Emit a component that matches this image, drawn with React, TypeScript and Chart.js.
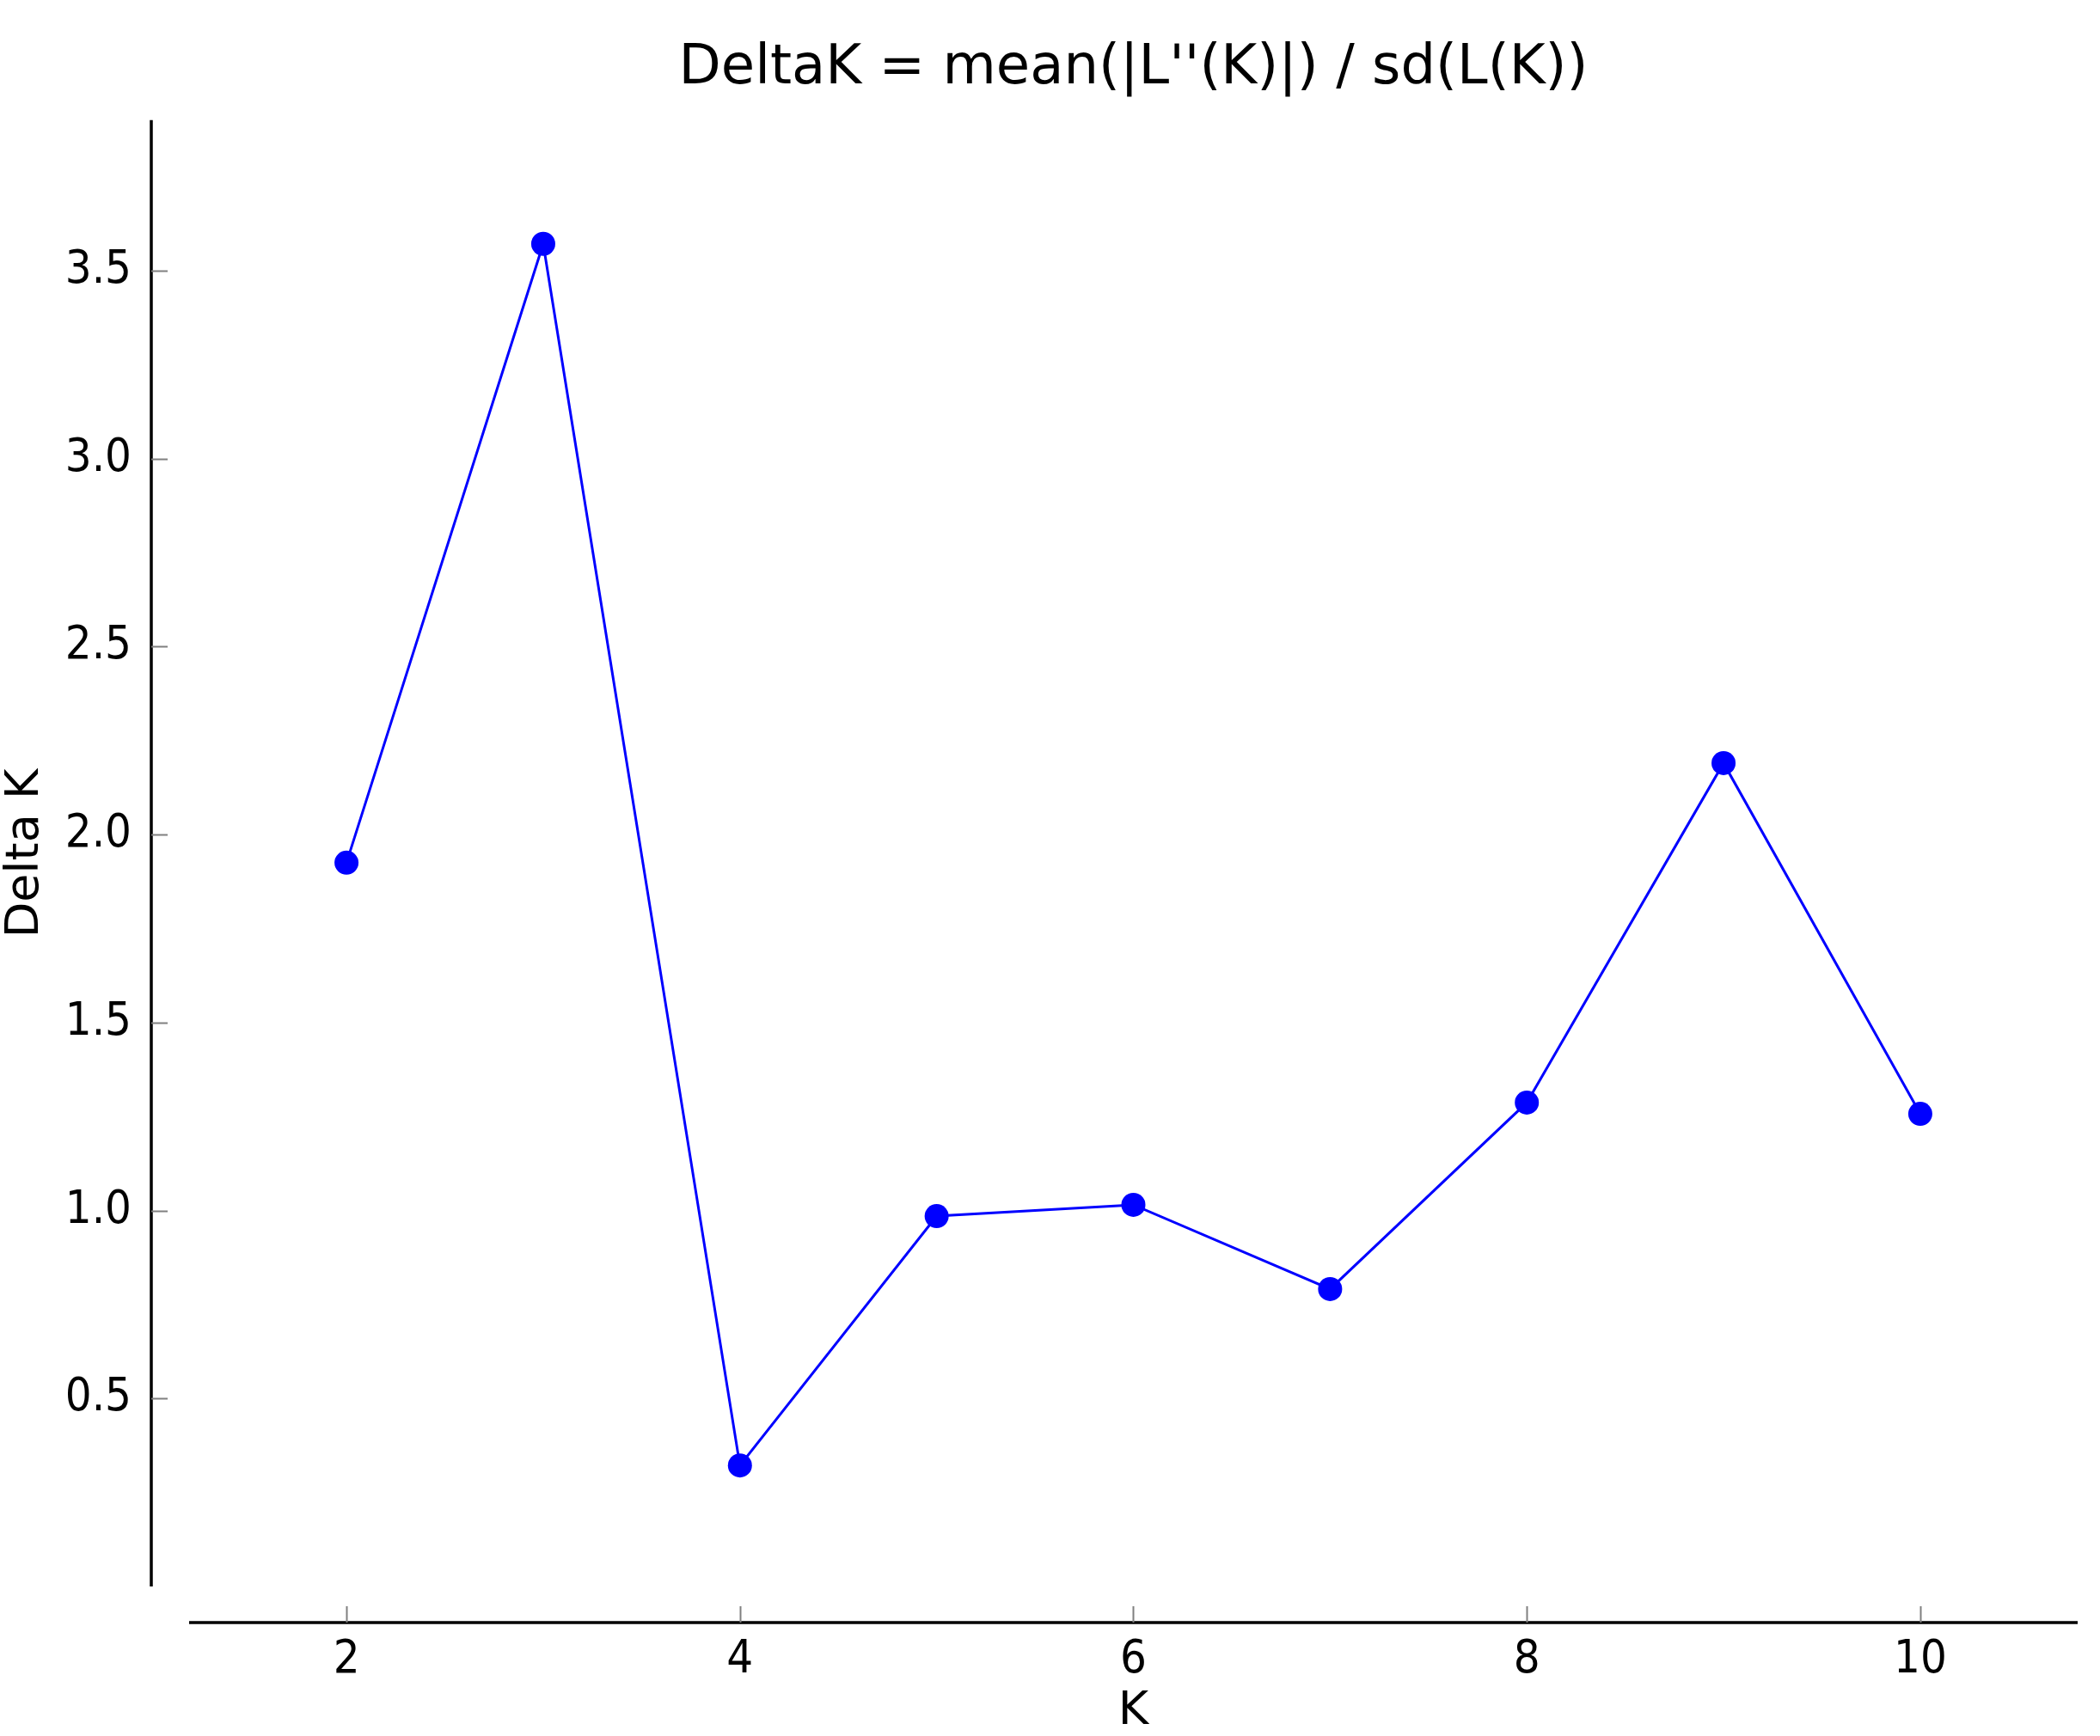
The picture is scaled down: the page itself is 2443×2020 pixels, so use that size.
import React, { useEffect, useRef } from "react";
import { Chart, registerables } from "chart.js";

Chart.register(...registerables);

const titleText = "DeltaK = mean(|L''(K)|) / sd(L(K))";
const xLabel = "K";
const yLabel = "Delta K";
const kValues = [2, 3, 4, 5, 6, 7, 8, 9, 10];
const deltaK = [1.925, 3.571, 0.322, 0.985, 1.015, 0.791, 1.287, 2.19, 1.257];
const xTicks = [2, 4, 6, 8, 10];
const yTicks = [0.5, 1.0, 1.5, 2.0, 2.5, 3.0, 3.5];
const xRange = [1.2, 10.8];
const yRange = [0, 3.9];

const FONT = "'DejaVu Sans', sans-serif";
const TICK_FONT = "'DejaVu Sans Condensed', 'DejaVu Sans', sans-serif";

const spinePlugin = {
  id: "spines",
  afterDraw(chart: any) {
    const { ctx, chartArea } = chart;
    const xs = chart.scales.x;
    const ys = chart.scales.y;
    const leftX = chartArea.left - 44;
    const bottomY = chartArea.bottom + 42;
    ctx.save();
    ctx.strokeStyle = "#000000";
    ctx.lineWidth = 3.5;
    ctx.beginPath();
    ctx.moveTo(leftX, chartArea.top);
    ctx.lineTo(leftX, chartArea.bottom);
    ctx.moveTo(chartArea.left, bottomY);
    ctx.lineTo(chartArea.right, bottomY);
    ctx.stroke();
    ctx.strokeStyle = "#808080";
    ctx.lineWidth = 2;
    ctx.beginPath();
    for (const v of yTicks) {
      const py = Math.round(ys.getPixelForValue(v)) + 0.5;
      ctx.moveTo(leftX, py);
      ctx.lineTo(leftX + 19, py);
    }
    for (const v of xTicks) {
      const px = Math.round(xs.getPixelForValue(v)) + 0.5;
      ctx.moveTo(px, bottomY);
      ctx.lineTo(px, bottomY - 19);
    }
    ctx.stroke();
    ctx.restore();
  },
};

export default function App() {
  const ref = useRef<HTMLCanvasElement | null>(null);
  useEffect(() => {
    document.body.style.margin = "0";
    if (!ref.current) return;
    const chart = new Chart(ref.current, {
      type: "scatter",
      data: {
        datasets: [
          {
            data: kValues.map((k, i) => ({ x: k, y: deltaK[i] })),
            showLine: true,
            borderColor: "#0000ff",
            borderWidth: 3,
            pointRadius: 14,
            pointHoverRadius: 14,
            pointBackgroundColor: "#0000ff",
            pointBorderColor: "#0000ff",
            pointBorderWidth: 0,
          },
        ],
      },
      options: {
        animation: false,
        responsive: false,
        devicePixelRatio: 1,
        layout: { padding: { left: 0, right: 26, top: 0, bottom: 0 } },
        plugins: {
          legend: { display: false },
          tooltip: { enabled: false },
          title: {
            display: true,
            text: titleText,
            fullSize: false,
            color: "#000000",
            font: { family: FONT, size: 64, weight: "normal", lineHeight: 1.2 },
            padding: { top: 42, bottom: 21 },
          },
        },
        scales: {
          x: {
            type: "linear",
            min: xRange[0],
            max: xRange[1],
            grid: { display: false, drawTicks: false },
            border: { display: false },
            afterFit(scale: any) {
              scale.height = 174;
            },
            afterBuildTicks(scale: any) {
              scale.ticks = xTicks.map((v) => ({ value: v }));
            },
            ticks: {
              color: "#000000",
              padding: 54,
              font: { family: TICK_FONT, size: 54, lineHeight: 1.2 },
              callback: (v: any) => String(v),
              maxRotation: 0,
            },
            title: {
              display: true,
              text: xLabel,
              color: "#000000",
              font: { family: FONT, size: 54, lineHeight: 1.05 },
              padding: { top: 0, bottom: 0 },
            },
          },
          y: {
            type: "linear",
            min: yRange[0],
            max: yRange[1],
            grid: { display: false, drawTicks: false },
            border: { display: false },
            afterFit(scale: any) {
              scale.width = 220;
            },
            afterBuildTicks(scale: any) {
              scale.ticks = yTicks.map((v) => ({ value: v }));
            },
            ticks: {
              color: "#000000",
              padding: 67,
              font: { family: TICK_FONT, size: 54, lineHeight: 1.2 },
              callback: (v: any) => Number(v).toFixed(1),
            },
            title: {
              display: true,
              text: yLabel,
              color: "#000000",
              font: { family: FONT, size: 54, lineHeight: 1.1 },
              padding: { top: 0, bottom: 0 },
            },
          },
        },
      },
      plugins: [spinePlugin],
    });
    return () => chart.destroy();
  }, []);
  return (
    <div style={{ width: 2443, height: 2020, background: "#ffffff" }}>
      <canvas ref={ref} width={2443} height={2020} style={{ display: "block" }} />
    </div>
  );
}
